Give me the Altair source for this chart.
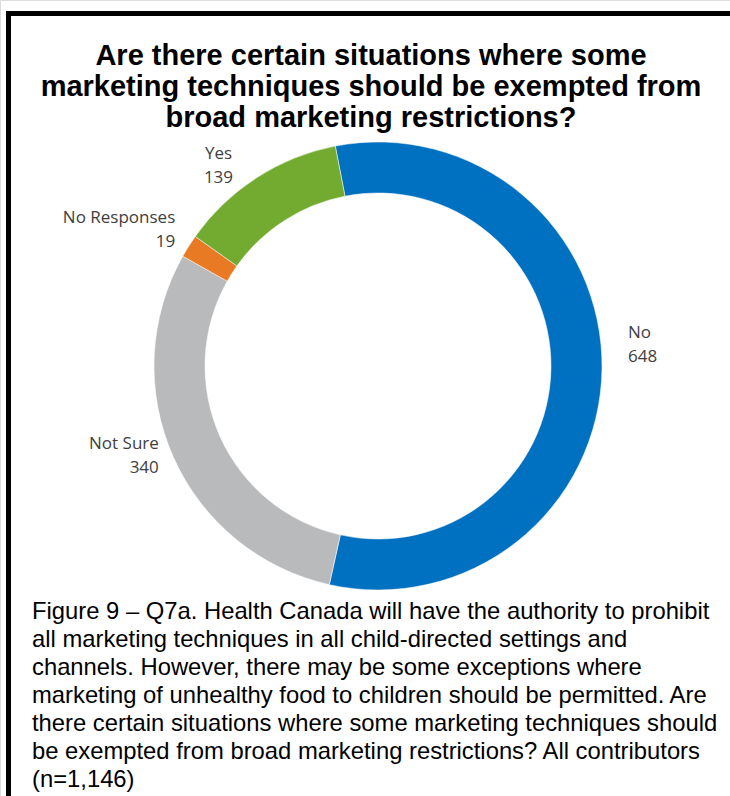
import altair as alt
import pandas as pd
import math

# ---- data ----
categories = ["No", "Not Sure", "No Responses", "Yes"]
counts = [648, 340, 19, 139]
colors = ["#0070C0", "#B9BABC", "#E97A24", "#72AB30"]

title_lines = [
    "Are there certain situations where some",
    "marketing techniques should be exempted from",
    "broad marketing restrictions?",
]
caption_lines = [
    "Figure 9 \u2013 Q7a. Health Canada will have the authority to prohibit",
    "all marketing techniques in all child-directed settings and",
    "channels. However, there may be some exceptions where",
    "marketing of unhealthy food to children should be permitted. Are",
    "there certain situations where some marketing techniques should",
    "be exempted from broad marketing restrictions? All contributors",
    "(n=1,146)",
]

W, H = 730, 796
CX, CY = 378, 366
start = math.radians(-11)

df = pd.DataFrame({"category": categories, "value": counts, "idx": list(range(len(categories)))})
total = sum(counts)

theta_scale = alt.Scale(domain=[0, total], range=[start, start + 2 * math.pi])
color_scale = alt.Scale(domain=categories, range=colors)

base = alt.Chart(df)

arcs = base.mark_arc(innerRadius=173, outerRadius=224, stroke="white", strokeWidth=0.5).encode(
    theta=alt.Theta("value:Q", stack=True, scale=theta_scale),
    color=alt.Color("category:N", scale=color_scale, legend=None),
    order=alt.Order("idx:Q"),
    x=alt.value(CX),
    y=alt.value(CY),
)

lab = base.transform_window(
    cum="sum(value)", sort=[alt.SortField("idx")], frame=[None, 0]
).transform_calculate(
    mid="datum.cum - datum.value / 2",
    label="datum.category + '\\n' + datum.value",
)

txt_kw = dict(font="Open Sans", fontSize=17, color="#404040", lineBreak="\n", lineHeight=24, baseline="middle")
enc = dict(
    theta=alt.Theta("mid:Q", scale=theta_scale),
    text=alt.Text("label:N"),
    x=alt.value(CX),
    y=alt.value(CY),
)

lab_right = lab.transform_filter(alt.datum.category == "No").mark_text(
    align="left", radius=250, dy=-36, **txt_kw
).encode(**enc)
lab_left = lab.transform_filter(
    (alt.datum.category == "Not Sure") | (alt.datum.category == "No Responses")
).mark_text(align="right", radius=240, dy=-20, **txt_kw).encode(**enc)
lab_top = lab.transform_filter(alt.datum.category == "Yes").mark_text(
    align="center", radius=250, dx=-24, dy=-2, **txt_kw
).encode(**enc)

one = pd.DataFrame({"t": ["\n".join(title_lines)], "c": ["\n".join(caption_lines)]})

title = alt.Chart(one).mark_text(
    font="Liberation Sans", fontSize=29, fontWeight="bold", color="black",
    align="center", baseline="top", lineBreak="\n", lineHeight=31,
).encode(text="t:N", x=alt.value(371), y=alt.value(42))

caption = alt.Chart(one).mark_text(
    font="Liberation Sans", fontSize=23.8, color="black",
    align="left", baseline="top", lineBreak="\n", lineHeight=28,
).encode(text="c:N", x=alt.value(32), y=alt.value(600))

border_left = alt.Chart(one).mark_rule(color="black", strokeWidth=5).encode(
    x=alt.value(8.5), y=alt.value(11), y2=alt.value(H)
)
border_top = alt.Chart(one).mark_rule(color="black", strokeWidth=5).encode(
    x=alt.value(6), x2=alt.value(W), y=alt.value(13.5)
)

chart = alt.layer(
    arcs, lab_right, lab_left, lab_top, title, caption, border_left, border_top
).properties(
    width=W, height=H, padding=0, autosize=alt.AutoSizeParams(type="none")
).configure_view(stroke=None).configure(background="white")

chart.save("out.html", embed_options={"renderer": "svg", "actions": False})
